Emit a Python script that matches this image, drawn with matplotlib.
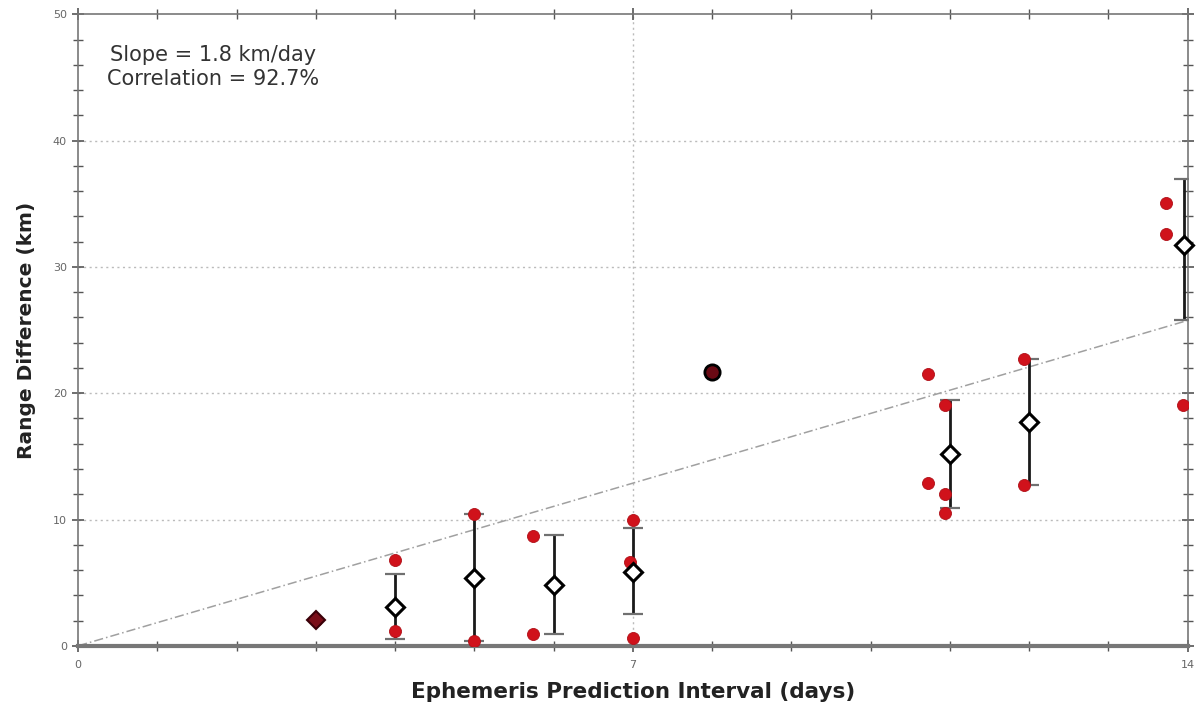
import numpy as np
import matplotlib
matplotlib.use("Agg")
import matplotlib.pyplot as plt

# ================= DATA =================

# individual range differences (red dots)
pts_x = [3.0, 4.0, 4.0, 5.0, 5.0, 5.74, 5.74, 7.0, 6.97, 7.0,
         10.73, 10.73, 10.94, 10.94, 10.94, 11.94, 11.94, 13.73, 13.73, 13.94]
pts_y = [2.05, 6.8, 1.2, 10.4, 0.35, 8.7, 0.95, 10.0, 6.6, 0.65,
         21.5, 12.9, 19.1, 12.0, 10.5, 22.7, 12.7, 35.1, 32.6, 19.1]

# per-interval means with spread (diamonds + error bars)
mean_x = [4, 5, 6, 7, 11, 12, 13.95]
mean_y = [3.1, 5.4, 4.8, 5.85, 15.2, 17.7, 31.7]
err_lo = [0.55, 0.35, 0.95, 2.5, 10.9, 12.7, 25.8]
err_hi = [5.7, 10.4, 8.8, 9.3, 19.5, 22.7, 37.0]

# intervals with one sample only
single_x = [3, 8]
single_y = [2.05, 21.7]

slope = 1.84
fit_x = [0, 14]

# ================= DRAW =================

fig = plt.figure(figsize=(12.02, 7.16), dpi=100)
ax = fig.add_axes([0.065, 0.098, 0.923, 0.882])

ax.set_xlim(0, 14)
ax.set_ylim(0, 50)

# grid: horizontal at major y, vertical only at 7
for yy in [10, 20, 30, 40]:
    ax.axhline(yy, color="#bbbbbb", lw=1, ls=(0, (1.5, 2.5)), zorder=0)
ax.axvline(7, color="#bbbbbb", lw=1, ls=(0, (1.5, 2.5)), zorder=0)

# fit line
fit_y = [slope * v for v in fit_x]
ax.plot(fit_x, fit_y, color="#a0a0a0", lw=1.1, ls=(0, (6, 2, 1, 2)), zorder=1)

# error bars
yerr = [np.array(mean_y) - np.array(err_lo), np.array(err_hi) - np.array(mean_y)]
_, caps, _ = ax.errorbar(mean_x, mean_y, yerr=yerr, fmt="none", ecolor="#1a1a1a",
                         elinewidth=2, capsize=7, capthick=1.6, zorder=2)
for c in caps:
    c.set_markeredgecolor("#707070")

# red samples
ax.scatter(pts_x, pts_y, s=75, color="#d0121b", edgecolors="#b01018",
           linewidths=0.6, zorder=3)

# means
ax.plot(mean_x, mean_y, "D", ms=9, mfc="white", mec="black", mew=2.2,
        zorder=4, clip_on=False)

# single-sample points
ax.plot(single_x[0], single_y[0], "D", ms=9, mfc="#7a0d18", mec="#3a0008",
        mew=1.5, zorder=4)
ax.plot(single_x[1], single_y[1], "o", ms=11, mfc="#6a0a14", mec="black",
        mew=2, zorder=4)

# ticks
ax.set_xticks(np.arange(0, 15, 1), minor=True)
ax.set_xticks([0, 7, 14])
ax.set_yticks(np.arange(0, 51, 2), minor=True)
ax.set_yticks(np.arange(0, 51, 10))
ax.tick_params(axis="both", which="both", direction="inout", colors="#555555",
               labelcolor="#666666", labelsize=8)
ax.tick_params(axis="both", which="major", length=9, width=1.2)
ax.tick_params(axis="both", which="minor", length=7, width=1.0)
ax.tick_params(axis="x", which="both", top=True)
ax.tick_params(axis="y", which="both", right=True)
ax.tick_params(axis="x", pad=6)

for side in ["left", "right", "top"]:
    ax.spines[side].set_color("#777777")
    ax.spines[side].set_linewidth(1.2)
ax.spines["bottom"].set_color("#777777")
ax.spines["bottom"].set_linewidth(3)

ax.set_xlabel("Ephemeris Prediction Interval (days)", fontsize=15.5,
              fontweight="bold", color="#222222", labelpad=8)
ax.set_ylabel("Range Difference (km)", fontsize=14.5, fontweight="bold",
              color="#222222", labelpad=12)

ax.text(0.122, 0.952, "Slope = 1.8 km/day\nCorrelation = 92.7%",
        transform=ax.transAxes, ha="center", va="top", fontsize=15,
        color="#333333", linespacing=1.3)

plt.savefig("out.png", dpi=100)
plt.close()
